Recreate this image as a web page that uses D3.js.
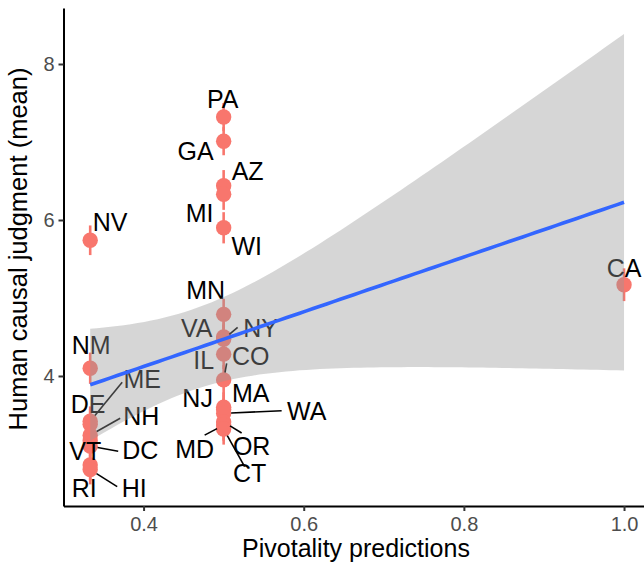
<!DOCTYPE html>
<meta charset="utf-8">
<script src="https://cdn.jsdelivr.net/npm/d3@7"></script>
<style type="text/css">
  body { margin: 0; background: #fff; }
  text { font-family: "Liberation Sans", Arial, sans-serif; }
  .axis path, .axis line { stroke: #000; }
  .axis text { fill: #4d4d4d; font-size: 20px; }
</style>
<body>
<script>

// state, pivotality prediction, mean judgment, standard error
var states = ["NV", "NM", "ME", "DE", "NH", "VT", "DC", "RI", "HI",
              "PA", "GA", "AZ", "MI", "WI", "MN", "VA", "NY", "IL", "CO",
              "MA", "NJ", "WA", "OR", "MD", "CT", "CA"];
var pivotality = [1/3, 1/3, 1/3, 1/3, 1/3, 1/3, 1/3, 1/3, 1/3,
                  0.5, 0.5, 0.5, 0.5, 0.5, 0.5, 0.5, 0.5, 0.5, 0.5,
                  0.5, 0.5, 0.5, 0.5, 0.5, 0.5, 1];
var judgment = [5.74, 4.10, 3.42, 3.38, 3.24, 3.17, 3.10, 2.86, 2.80,
                7.32, 7.01, 6.44, 6.33, 5.90, 4.79, 4.50, 4.47, 4.28, 3.95,
                3.60, 3.57, 3.52, 3.41, 3.37, 3.32, 5.17];
var stdErr = [0.19, 0.20, 0.19, 0.20, 0.19, 0.19, 0.20, 0.20, 0.19,
              0.18, 0.18, 0.20, 0.20, 0.20, 0.20, 0.19, 0.19, 0.19, 0.19,
              0.19, 0.19, 0.19, 0.19, 0.20, 0.20, 0.21];

var xTicks = [0.4, 0.6, 0.8, 1.0];
var yTicks = [4, 6, 8];

// where the repelled labels ended up, in pixels from the point
// [dx, dy of label baseline centre, segment end dx, dy or null]
var labelPlace = {
  NV: [20, -9], NM: [1, -14], ME: [52, -33, 32, -39], DE: [-2, -11],
  NH: [51, -10, 30, -17], VT: [-5, 19], DC: [50, 13, 28, 5], RI: [-6, 32],
  HI: [44, 27, 27, 17], PA: [-1, -9], GA: [-28, 19], AZ: [24, -6],
  MI: [-24, 28], WI: [23, 27], MN: [-18, -15], VA: [-27, 0],
  NY: [37, -2, 14, -12], IL: [-20, 15], CO: [27, -15, 3, -16.5],
  MA: [27, -5], NJ: [-26, -2.5], WA: [83, 6.6, 58, -2.7],
  OR: [28, 33, 18, 11], MD: [-29, 33, -19, 10], CT: [26, 53, 21, 37.7],
  CA: [0, -8]
};

var data = states.map(function(s, i) {
  return {state: s, x: pivotality[i], y: judgment[i], se: stdErr[i]};
});

var width = 644, height = 568;
var svg = d3.select("body").append("svg")
    .attr("width", width)
    .attr("height", height);

var xScale = d3.scaleLinear().domain([0.3, 1.0333]).range([63.5, 650.7]);
var yScale = d3.scaleLinear().domain([2.333, 8.718]).range([506, 8]);

// linear fit with 95% band, like geom_smooth(method = "lm")
var n = data.length;
var xbar = d3.mean(data, d => d.x), ybar = d3.mean(data, d => d.y);
var sxx = d3.sum(data, d => (d.x - xbar) * (d.x - xbar));
var sxy = d3.sum(data, d => (d.x - xbar) * (d.y - ybar));
var slope = sxy / sxx, icept = ybar - slope * xbar;
var sse = d3.sum(data, d => Math.pow(d.y - (icept + slope * d.x), 2));
var sigma = Math.sqrt(sse / (n - 2));
var tCrit = 2.0639; // t(0.975, df = 24)

var xExt = d3.extent(data, d => d.x);
var fit = d3.range(80).map(function(i) {
  var x = xExt[0] + (xExt[1] - xExt[0]) * i / 79;
  var yhat = icept + slope * x;
  var half = tCrit * sigma * Math.sqrt(1 / n + (x - xbar) * (x - xbar) / sxx);
  return {x: x, y: yhat, lo: yhat - half, hi: yhat + half};
});

// point ranges
var pts = svg.append("g");
pts.selectAll(".bar").data(data).enter().append("line")
    .attr("x1", d => xScale(d.x)).attr("x2", d => xScale(d.x))
    .attr("y1", d => yScale(d.y - d.se)).attr("y2", d => yScale(d.y + d.se))
    .style("stroke", "#F8766D").style("stroke-width", 2.6);
pts.selectAll(".dot").data(data).enter().append("circle")
    .attr("cx", d => xScale(d.x)).attr("cy", d => yScale(d.y))
    .attr("r", 7.7)
    .style("fill", "#F8766D");

// labels with their segments
var labs = svg.append("g");
data.forEach(function(d) {
  var p = labelPlace[d.state];
  var px = xScale(d.x), py = yScale(d.y);
  if (p.length > 2) {
    var ex = px + p[2], ey = py + p[3];
    var len = Math.hypot(p[2], p[3]);
    labs.append("line")
        .attr("x1", px + p[2] / len * 7.5).attr("y1", py + p[3] / len * 7.5)
        .attr("x2", ex).attr("y2", ey)
        .style("stroke", "#000").style("stroke-width", 1.6);
  }
  labs.append("text")
      .attr("x", px + p[0]).attr("y", py + p[1])
      .style("text-anchor", "middle")
      .style("font-size", "25px")
      .style("fill", "#000")
      .text(d.state);
});

// confidence band and fitted line
svg.append("path")
    .datum(fit)
    .style("fill", "#999999").style("fill-opacity", 0.4)
    .attr("d", d3.area().x(d => xScale(d.x)).y0(d => yScale(d.lo)).y1(d => yScale(d.hi)));
svg.append("path")
    .datum(fit)
    .style("fill", "none").style("stroke", "#3366FF").style("stroke-width", 3.6)
    .attr("d", d3.line().x(d => xScale(d.x)).y(d => yScale(d.y)));

// axes
var xAxis = svg.append("g").attr("class", "axis")
    .attr("transform", "translate(0,506)")
    .call(d3.axisBottom(xScale).tickValues(xTicks).tickFormat(d3.format(".1f"))
          .tickSize(5).tickSizeOuter(0).tickPadding(6));
var yAxis = svg.append("g").attr("class", "axis")
    .attr("transform", "translate(63.5,0)")
    .call(d3.axisLeft(yScale).tickValues(yTicks).tickFormat(d3.format("d"))
          .tickSize(5).tickSizeOuter(0).tickPadding(4));
svg.selectAll(".axis .domain").style("stroke-width", 2);
svg.selectAll(".axis .tick line").style("stroke", "#333").style("stroke-width", 2);

svg.append("text")
    .attr("x", 356).attr("y", 557)
    .style("text-anchor", "middle")
    .style("font-size", "25px")
    .text("Pivotality predictions");

svg.append("text")
    .attr("transform", "translate(27,249) rotate(-90)")
    .style("text-anchor", "middle")
    .style("font-size", "25.5px")
    .text("Human causal judgment (mean)");

</script>
</body>
</html>
